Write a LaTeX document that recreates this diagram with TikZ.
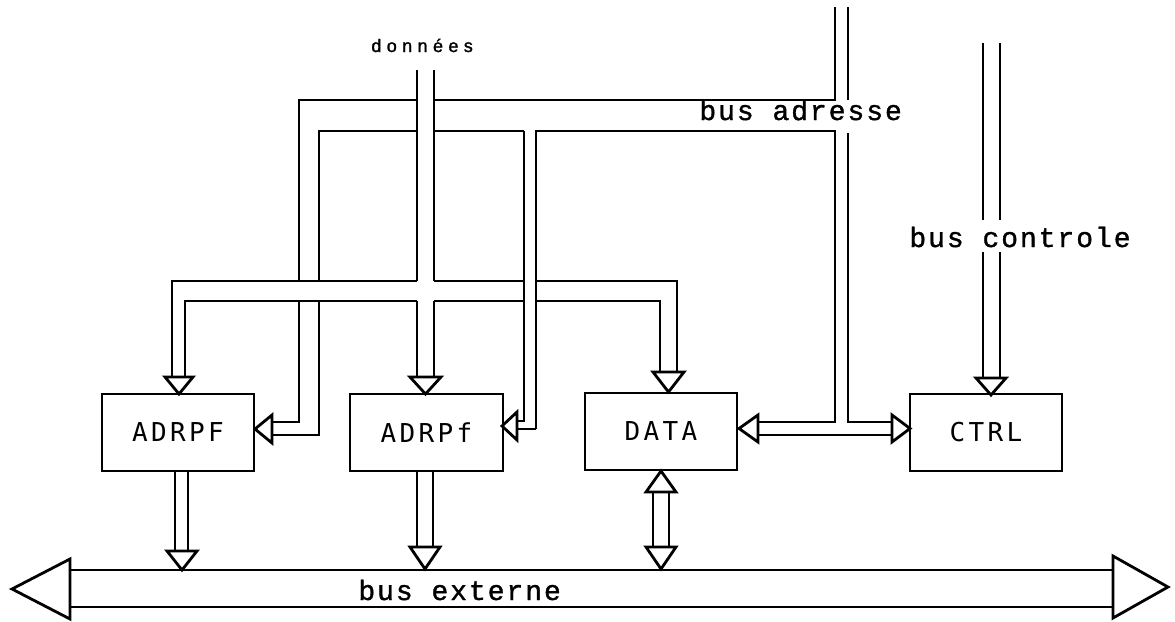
\documentclass[tikz,border=0pt]{standalone}
\usepackage{fontspec}
\newfontfamily\busfont[LetterSpace=7,FakeBold=1.2]{Liberation Mono}
\newfontfamily\boxfont[LetterSpace=13]{DejaVu Sans Mono}
\newfontfamily\handfont[LetterSpace=30,FakeBold=1.5]{Liberation Sans}
\begin{document}
\begin{tikzpicture}[x=1pt,y=-1pt,line width=2.8pt,line join=miter,
  blk/.style={draw,line width=2.8pt,inner sep=0pt,minimum height=77pt,
    font=\boxfont\fontsize{26}{26}\selectfont},
  head/.style={draw,line width=2.8pt,fill=white,line join=miter},
  lbl/.style={font=\busfont\fontsize{28}{28}\selectfont,inner sep=0pt,anchor=base west},
  hand/.style={font=\handfont\fontsize{18}{18}\selectfont,inner sep=0pt,anchor=base west}]
\useasboundingbox (0,0) rectangle (1175,621);

% blocks
\node[blk,minimum width=152pt] (adrpf) at (178,432.5) {ADRPF};
\node[blk,minimum width=153pt] (adrpm) at (426.5,432.5) {ADRPf};
\node[blk,minimum width=152pt] (data) at (661,431.5) {DATA};
\node[blk,minimum width=152pt] (ctrl) at (986,432.5) {CTRL};

% labels
\node[hand] (don) at (370,52) {données};
\node[lbl] (ladr) at (698,120) {bus adresse};
\node[lbl] (lctl) at (908,247) {bus controle};
\node[lbl] (lext) at (357,600) {bus externe};

% ---- bus externe
\draw (70,570) -- (1113,570);
\draw (70,607) -- (1113,607);
\draw[head] (70,559) -- (12,589) -- (70,619) -- cycle;
\draw[head] (1113,556) -- (1168,587) -- (1113,618) -- cycle;

% ---- block outputs to bus externe
\draw (175,471) -- (175,551);
\draw (188,471) -- (188,551);
\draw[head] (167,551) -- (197,551) -- (182,570) -- cycle;
\draw (417,471) -- (417,547);
\draw (433,471) -- (433,547);
\draw[head] (410,547) -- (440,547) -- (425,569) -- cycle;
\draw (653,492) -- (653,547);
\draw (669,492) -- (669,547);
\draw[head] (646,492) -- (676,492) -- (661,471) -- cycle;
\draw[head] (646,547) -- (676,547) -- (661,569) -- cycle;

% ---- bus controle
\draw (983,43) -- (983,220);
\draw (1000,43) -- (1000,220);
\draw (983,252) -- (983,378);
\draw (1000,252) -- (1000,378);
\draw[head] (976,378) -- (1006,378) -- (991,395) -- cycle;

% ---- donnees bus
\draw (417,70) -- (417,281);
\draw (434,70) -- (434,281);
\draw (417,301) -- (417,377);
\draw (434,301) -- (434,377);
\draw[head] (410,377) -- (441,377) -- (425.5,394) -- cycle;

% ---- data distribution bus
\draw (172,377) -- (172,281) -- (417,281);
\draw (434,281) -- (524,281);
\draw (536,281) -- (677,281) -- (677,372);
\draw (185,377) -- (185,301) -- (417,301);
\draw (434,301) -- (524,301);
\draw (536,301) -- (660,301) -- (660,372);
\draw[head] (165,377) -- (193,377) -- (179,394) -- cycle;
\draw[head] (653,372) -- (684,372) -- (668.5,392) -- cycle;

% ---- bus adresse
\draw (835,7) -- (835,100) -- (434,100);
\draw (417,100) -- (299,100) -- (299,281);
\draw (299,301) -- (299,422) -- (272,422);
\draw (848,7) -- (848,100);
\draw (848,133) -- (848,422) -- (892,422);
\draw (524,131) -- (434,131);
\draw (417,131) -- (319,131) -- (319,281);
\draw (319,301) -- (319,435) -- (272,435);
\draw (524,131) -- (524,421) -- (517,421);
\draw (536,429) -- (517,429);
\draw (536,429) -- (536,131) -- (835,131) -- (835,422) -- (758,422);
\draw (758,435) -- (892,435);
\draw[head] (272,415) -- (272,443) -- (255,429) -- cycle;
\draw[head] (517,412) -- (517,440) -- (502,426) -- cycle;
\draw[head] (758,415) -- (758,442) -- (739,428.5) -- cycle;
\draw[head] (892,415) -- (892,442) -- (910,428.5) -- cycle;
\end{tikzpicture}
\end{document}
